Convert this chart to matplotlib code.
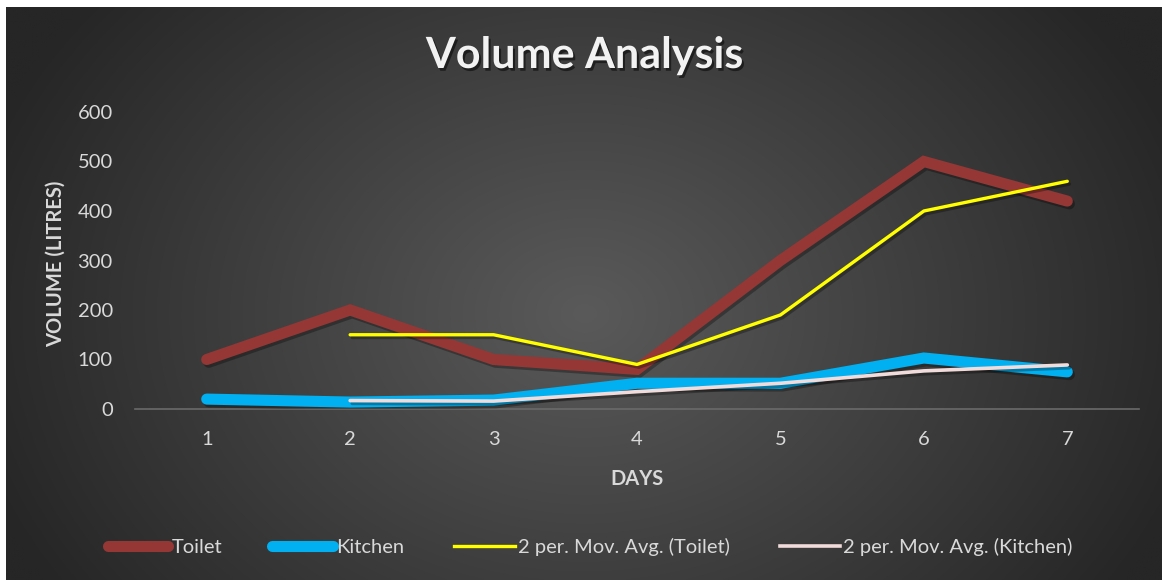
import numpy as np
import matplotlib
matplotlib.use("Agg")
import matplotlib.pyplot as plt
import matplotlib.patheffects as pe
from matplotlib.lines import Line2D

plt.rcParams['font.family'] = ['Lato', 'DejaVu Sans']

days = [1, 2, 3, 4, 5, 6, 7]
toilet = [100, 200, 100, 80, 300, 500, 420]
kitchen = [20, 14, 18, 52, 52, 103, 75]
ma_toilet_days = [2, 3, 4, 5, 6, 7]
ma_toilet = [150, 150, 90, 190, 400, 460]
ma_kitchen_days = [2, 3, 4, 5, 6, 7]
ma_kitchen = [17, 16, 35, 52, 77, 89]
yticks = [0, 100, 200, 300, 400, 500, 600]

W, H = 1162, 580
fig = plt.figure(figsize=(W / 100, H / 100), dpi=100)
fig.patch.set_facecolor('white')

# background with radial gradient
bg = fig.add_axes([6 / W, 0, 1 - 6 / W, 1 - 7 / H])
bg.set_axis_off()
yy, xx = np.mgrid[0:300, 0:600]
cx, cy = 300, 160
r = np.sqrt(((xx - cx) / 330.0) ** 2 + ((yy - cy) / 260.0) ** 2)
r = np.clip(r, 0, 1)
inner = np.array([0x5a, 0x5a, 0x5a]) / 255
outer = np.array([0x26, 0x26, 0x26]) / 255
img = inner[None, None, :] * (1 - r[..., None]) + outer[None, None, :] * r[..., None]
bg.imshow(img, aspect='auto', extent=[0, 1, 0, 1], interpolation='bilinear')
bg.set_xlim(0, 1)
bg.set_ylim(0, 1)

ax = fig.add_axes([135 / W, 1 - 409 / H, (1139 - 135) / W, (409 - 112) / H])
ax.patch.set_alpha(0)

shadow = [pe.SimpleLineShadow(offset=(1.5, -2), shadow_color='black', alpha=0.3), pe.Normal()]

c_toilet = '#953735'
c_kitchen = '#00B0F0'
c_mat = '#FFFF00'
c_mak = '#F2DCDB'

ax.plot(days, toilet, color=c_toilet, lw=8, solid_capstyle='round', solid_joinstyle='miter',
        path_effects=shadow, label='Toilet', zorder=3)
ax.plot(days, kitchen, color=c_kitchen, lw=8, solid_capstyle='round', solid_joinstyle='miter',
        path_effects=shadow, label='Kitchen', zorder=3)
ax.plot(ma_toilet_days, ma_toilet, color=c_mat, lw=2.4, solid_capstyle='round',
        path_effects=shadow, label='2 per. Mov. Avg. (Toilet)', zorder=4)
ax.plot(ma_kitchen_days, ma_kitchen, color=c_mak, lw=2.6, solid_capstyle='round',
        path_effects=shadow, label='2 per. Mov. Avg. (Kitchen)', zorder=4)

ax.set_xlim(0.5, 7.5)
ax.set_ylim(0, 600)
ax.set_xticks(days)
ax.set_yticks(yticks)
for s in ['top', 'right', 'left']:
    ax.spines[s].set_visible(False)
ax.spines['bottom'].set_color('#6a6a6a')
ax.spines['bottom'].set_linewidth(1.2)
ax.tick_params(axis='both', length=0, colors='#D9D9D9', labelsize=14.5)
ax.tick_params(axis='x', pad=16)
ax.tick_params(axis='y', pad=16)

ax.set_xlabel('DAYS', color='#D9D9D9', fontsize=14.5, fontweight='bold', labelpad=15)
ax.set_ylabel('VOLUME (LITRES)', color='#D9D9D9', fontsize=14.5, fontweight='bold',
              va='center')
ax.yaxis.set_label_coords((56 - 135) / (1139 - 135), 0.49)

fig.text(0.503, 1 - 55 / H, 'Volume Analysis', ha='center', va='center', color='#F2F2F2',
         fontsize=31, fontweight='bold',
         path_effects=[pe.withSimplePatchShadow(offset=(1.5, -2), shadow_rgbFace='black', alpha=0.5)])

handles = [
    Line2D([], [], color=c_toilet, lw=8, solid_capstyle='round'),
    Line2D([], [], color=c_kitchen, lw=8, solid_capstyle='round'),
    Line2D([], [], color=c_mat, lw=2.4),
    Line2D([], [], color=c_mak, lw=2.6),
]
labels = ['Toilet', 'Kitchen', '2 per. Mov. Avg. (Toilet)', '2 per. Mov. Avg. (Kitchen)']
leg = fig.legend(handles, labels, loc='center', bbox_to_anchor=(0.508, 1 - 547 / H), ncol=4,
                 frameon=False, fontsize=14.5, labelcolor='#D9D9D9', handlelength=3.0,
                 handletextpad=0.15, columnspacing=2.5)

fig.savefig('out.png', dpi=100, facecolor=fig.get_facecolor())
